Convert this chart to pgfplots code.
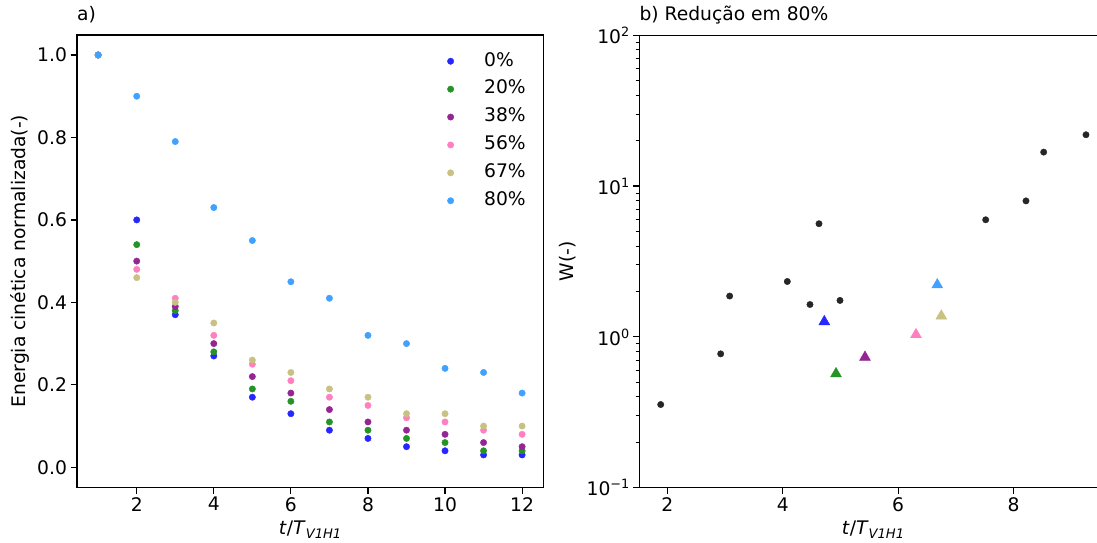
\documentclass[border=0pt]{standalone}
\usepackage{fontspec}
\setmainfont{DejaVu Sans}
\usepackage{pgfplots}
\pgfplotsset{compat=1.18}

\definecolor{c0}{RGB}{38,38,255}
\definecolor{c20}{RGB}{38,147,38}
\definecolor{c38}{RGB}{147,38,147}
\definecolor{c56}{RGB}{255,127,191}
\definecolor{c67}{RGB}{199,194,129}
\definecolor{c80}{RGB}{64,161,255}
\definecolor{cb}{RGB}{38,38,38}

\newcommand{\fs}{\fontsize{18.7pt}{22pt}\selectfont}
\newcommand{\sups}[1]{\raisebox{7pt}{\fontsize{12.8pt}{13pt}\selectfont #1}}
\newcommand{\subs}[1]{\raisebox{-4pt}{\fontsize{13.1pt}{13pt}\selectfont #1}}
\newcommand{\xlab}{\textit{t}/\textit{T}\subs{\textit{V1H1}}}

\pgfplotsset{
  mystyle/.style={
    scale only axis, anchor=south west,
    tick align=outside,
    major tick length=6.5pt, minor tick length=3.7pt,
    every tick/.style={black, line width=1.2pt},
    every minor tick/.append style={line width=0.9pt},
    axis line style={line width=1.2pt, black},
    tick label style={font=\fs},
    label style={font=\fs},
    title style={font=\fs, inner sep=0pt, anchor=base west, at={(0,1.0188)}},
    xtick pos=left, ytick pos=left,
  },
  dots/.style={only marks, mark=*, mark size=3.2pt, mark options={draw=#1, fill=#1}},
  tri/.style={only marks, mark=triangle*, mark size=6.3pt, mark options={draw=#1, fill=#1}},
}

\begin{document}
\begin{tikzpicture}
\useasboundingbox (0,0) rectangle (1097pt,543pt);

\begin{axis}[mystyle,
  at={(77pt,55.7pt)},
  width=466.3pt, height=452.3pt,
  xmin=0.45, xmax=12.55, ymin=-0.0485, ymax=1.0485,
  xtick={2,4,6,8,10,12}, xticklabels={2,4,6,8,10,12},
  ytick={0,0.2,0.4,0.6,0.8,1.0}, yticklabels={0.0,0.2,0.4,0.6,0.8,1.0},
  title={a)},
  xlabel={\xlab},
  xlabel style={at={(axis description cs:0.5,-0.1035)}, anchor=base, inner sep=0pt},
  ylabel={Energia cinética normalizada(-)},
  ylabel style={at={(axis description cs:-0.1115,0.5)}, anchor=base, inner sep=0pt},
  legend style={draw=none, fill=none, at={(axis description cs:0.7944,0.9624)}, anchor=north west,
    inner sep=0pt, outer sep=0pt, row sep=0pt, column sep=0pt, font=\fs,
    nodes={inner sep=0pt, text height=14pt, text depth=13.9pt}},
  legend cell align=left,
  legend image code/.code={\draw[#1] plot coordinates {(0pt,4.7pt)}; \path[draw=none] (0pt,4.7pt) (33.5pt,4.7pt);},
]
\addplot[dots=c0] coordinates {(1,1.0)(2,0.60)(3,0.37)(4,0.27)(5,0.17)(6,0.13)(7,0.09)(8,0.07)(9,0.05)(10,0.04)(11,0.03)(12,0.03)};
\addlegendentry{0\%}
\addplot[dots=c20] coordinates {(1,1.0)(2,0.54)(3,0.38)(4,0.28)(5,0.19)(6,0.16)(7,0.11)(8,0.09)(9,0.07)(10,0.06)(11,0.04)(12,0.04)};
\addlegendentry{20\%}
\addplot[dots=c38] coordinates {(1,1.0)(2,0.50)(3,0.39)(4,0.30)(5,0.22)(6,0.18)(7,0.14)(8,0.11)(9,0.09)(10,0.08)(11,0.06)(12,0.05)};
\addlegendentry{38\%}
\addplot[dots=c56] coordinates {(1,1.0)(2,0.48)(3,0.41)(4,0.32)(5,0.25)(6,0.21)(7,0.17)(8,0.15)(9,0.12)(10,0.11)(11,0.09)(12,0.08)};
\addlegendentry{56\%}
\addplot[dots=c67] coordinates {(1,1.0)(2,0.46)(3,0.40)(4,0.35)(5,0.26)(6,0.23)(7,0.19)(8,0.17)(9,0.13)(10,0.13)(11,0.10)(12,0.10)};
\addlegendentry{67\%}
\addplot[dots=c80] coordinates {(1,1.0)(2,0.90)(3,0.79)(4,0.63)(5,0.55)(6,0.45)(7,0.41)(8,0.32)(9,0.30)(10,0.24)(11,0.23)(12,0.18)};
\addlegendentry{80\%}
\end{axis}

\begin{axis}[mystyle,
  at={(639.3pt,55.3pt)},
  width=457.7pt, height=452.4pt,
  ymode=log,
  axis x line*=box, axis y line*=left,
  xmin=1.515, xmax=9.447, ymin=0.1, ymax=100,
  xtick={2,4,6,8}, xticklabels={2,4,6,8},
  ytick={0.1,1,10,100},
  yticklabels={10\sups{−1},10\sups{0},10\sups{1},10\sups{2}},
  minor ytick={0.2,0.3,0.4,0.5,0.6,0.7,0.8,0.9,2,3,4,5,6,7,8,9,20,30,40,50,60,70,80,90},
  title={b) Redução em 80\%},
  xlabel={\xlab},
  xlabel style={at={(axis description cs:0.5106,-0.1035)}, anchor=base, inner sep=0pt},
  ylabel={W(-)},
  ylabel style={at={(axis description cs:-0.1427,0.5)}, anchor=base, inner sep=0pt},
]
\addplot[dots=cb] coordinates {(1.886,0.356)(2.925,0.772)(3.081,1.866)(4.08,2.33)(4.473,1.64)(4.993,1.745)(4.629,5.63)(7.518,5.98)(8.216,7.98)(8.523,16.8)(9.256,21.9)};
\addplot[tri=c0] coordinates {(4.721,1.262)};
\addplot[tri=c20] coordinates {(4.924,0.570)};
\addplot[tri=c38] coordinates {(5.426,0.733)};
\addplot[tri=c56] coordinates {(6.31,1.035)};
\addplot[tri=c67] coordinates {(6.749,1.376)};
\addplot[tri=c80] coordinates {(6.679,2.215)};
\end{axis}
\end{tikzpicture}
\end{document}
